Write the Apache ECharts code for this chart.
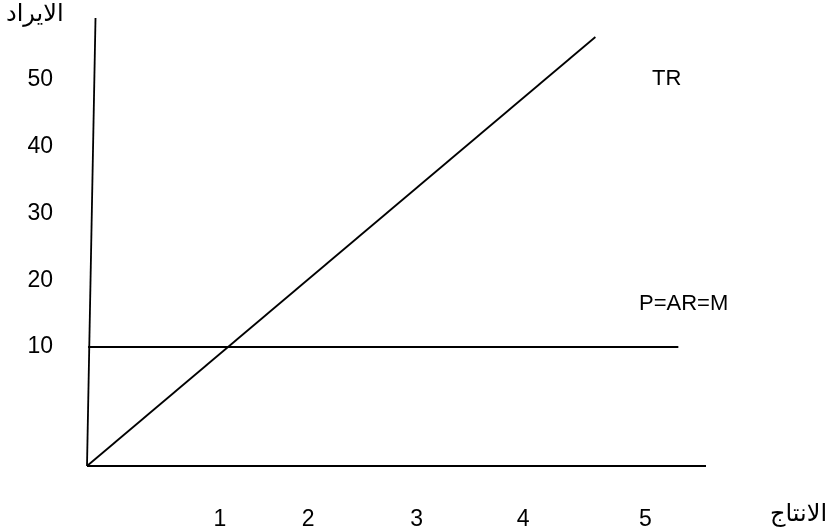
<!DOCTYPE html>
<html>
<head>
<meta charset="utf-8">
<script src="https://cdn.jsdelivr.net/npm/echarts@6/dist/echarts.min.js"></script>
<style>html,body{margin:0;padding:0;background:#fff}#c{width:828px;height:531px}</style>
</head>
<body>
<div id="c"></div>
<script>
// ---- data ----
const yTickValues = [10, 20, 30, 40, 50];
const yTickLabels = ['10', '20', '30', '40', '50'];
const xTickValues = [1, 1.83, 2.85, 3.85, 5];
const xTickLabels = ['1', '2', '3', '4', '5'];
const xRange = [-0.25, 5.57];
const yRange = [-7.83, 59.29];
const yAxisLine = [[-0.25, -7.83], [-0.17, 59.29]];
const xAxisLine = [[-0.25, -7.83], [5.57, -7.83]];
const priceLine = [[-0.24, 10], [5.31, 10]];
const trLine = [[-0.25, -7.83], [4.53, 56.44]];
const annotations = [
  { name: 'TR', value: [5.20, 50.1] },
  { name: 'P=AR=M', value: [5.36, 16.4] }
];
const yTitle = 'الايراد';
const xTitle = 'الانتاج';

const FONT = '"Liberation Sans", "DejaVu Sans", sans-serif';
const chart = echarts.init(document.getElementById('c'), null, { renderer: 'canvas' });
const lineStyle = { color: '#000', width: 1.8 };
function seg(name, data) {
  return { name, type: 'line', data, symbol: 'none', lineStyle, silent: true, animation: false };
}
chart.setOption({
  animation: false,
  backgroundColor: '#fff',
  grid: { left: 87, top: 18, width: 619, height: 448 },
  xAxis: {
    type: 'value', min: xRange[0], max: xRange[1],
    axisLine: { show: false }, axisTick: { show: false }, splitLine: { show: false },
    axisLabel: {
      customValues: xTickValues,
      formatter: v => { const i = xTickValues.findIndex(t => Math.abs(t - v) < 1e-6); return i >= 0 ? xTickLabels[i] : ''; },
      margin: 42, color: '#000', fontSize: 23, fontFamily: FONT
    }
  },
  yAxis: {
    type: 'value', min: yRange[0], max: yRange[1],
    axisLine: { show: false }, axisTick: { show: false }, splitLine: { show: false },
    axisLabel: {
      customValues: yTickValues,
      formatter: v => { const i = yTickValues.findIndex(t => Math.abs(t - v) < 1e-6); return i >= 0 ? yTickLabels[i] : ''; },
      margin: 34, color: '#000', fontSize: 23, fontFamily: FONT
    }
  },
  graphic: [
    { type: 'text', left: 6, top: 2, style: { text: yTitle, fill: '#000', font: '24px ' + FONT } },
    { type: 'text', left: 770, top: 502, style: { text: xTitle, fill: '#000', font: '24px ' + FONT } }
  ],
  series: [
    seg('yaxis', yAxisLine),
    seg('xaxis', xAxisLine),
    seg('P', priceLine),
    seg('TR', trLine),
    {
      type: 'scatter', data: annotations, symbolSize: 0, silent: true,
      itemStyle: { color: '#000', opacity: 1 },
      label: { show: true, position: 'inside', formatter: p => p.name, color: '#000',
        textBorderWidth: 0, opacity: 1, fontSize: 22, fontFamily: FONT }
    }
  ]
});
</script>
</body>
</html>
